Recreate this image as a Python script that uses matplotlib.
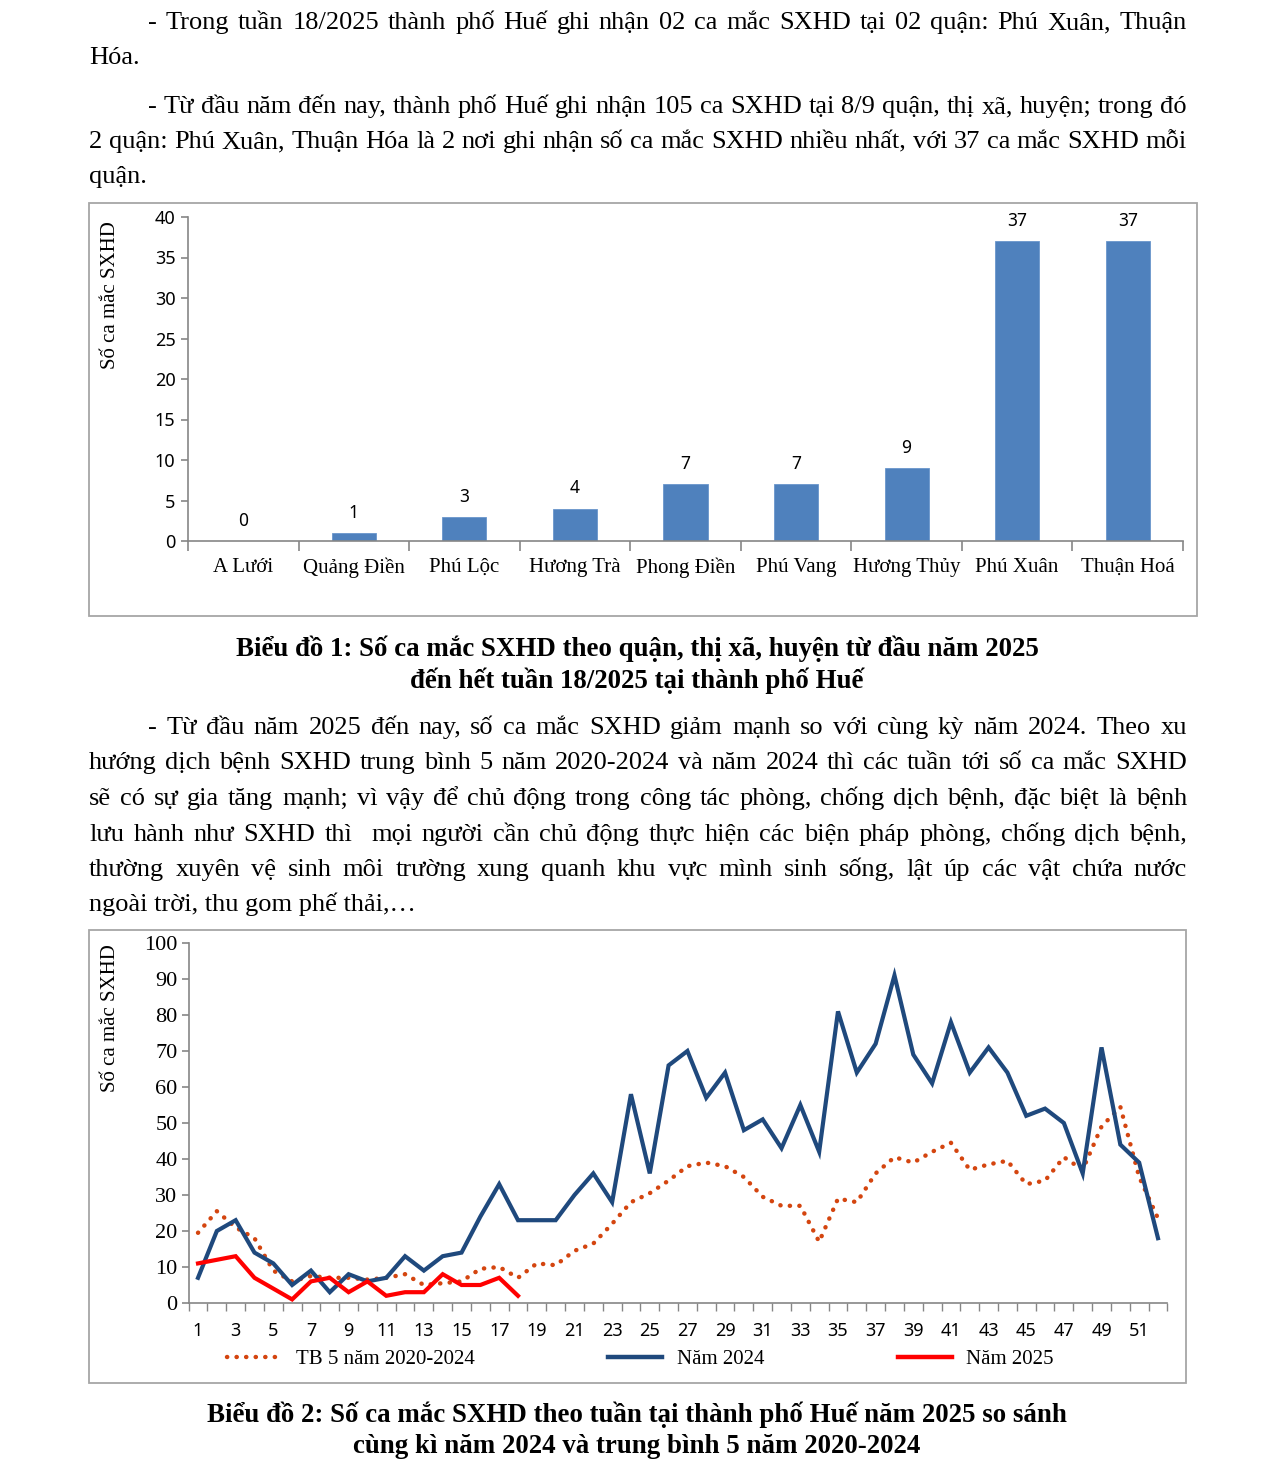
import matplotlib
matplotlib.use("Agg")
import matplotlib.pyplot as plt
from matplotlib.patches import Rectangle
from matplotlib.lines import Line2D

# ── page geometry (pixels) ───────────────────────────────────────────────────
W, H = 1275, 1463
DPI = 100
SERIF = "Liberation Serif"
SANS = "Noto Sans"

# ── data ─────────────────────────────────────────────────────────────────────
districts = ["A Lưới", "Quảng Điền", "Phú Lộc", "Hương Trà", "Phong Điền",
             "Phú Vang", "Hương Thủy", "Phú Xuân", "Thuận Hoá"]
district_cases = [0, 1, 3, 4, 7, 7, 9, 37, 37]

weeks = list(range(1, 53))
avg_5y = [19.5, 25.5, 21, 18, 9, 6, 7.5, 7, 7, 6.5,
          7, 8, 5, 5.5, 6, 9.5, 10, 7, 11, 10.5,
          14.5, 16.5, 22, 28, 30.5, 34, 38, 39, 38, 35,
          29.5, 27, 27, 17, 29, 28, 36, 40.5, 39, 42,
          44.5, 37, 38.5, 39.5, 33, 34, 40.5, 37, 49, 54.5,
          35, 23.5]
cases_2024 = [7, 20, 23, 14, 11, 5, 9, 3, 8, 6,
              7, 13, 9, 13, 14, 24, 33, 23, 23, 23,
              30, 36, 28, 58, 36, 66, 70, 57, 64, 48,
              51, 43, 55, 42, 81, 64, 72, 91, 69, 61,
              78, 64, 71, 64, 52, 54, 50, 36, 71, 44,
              39, 18]
cases_2025 = [11, 12, 13, 7, 4, 1, 6, 7, 3, 6, 2, 3, 3, 8, 5, 5, 7, 2]

series_labels = ["TB 5 năm 2020-2024", "Năm 2024", "Năm 2025"]
ylabel = "Số ca mắc SXHD"

para1 = [("- Trong tuần 18/2025 thành phố Huế ghi nhận 02 ca mắc SXHD tại 02 quận: Phú Xuân, Thuận", 20, True, True),
         ("Hóa.", 55, False, False)]
para2 = [("- Từ đầu năm đến nay, thành phố Huế ghi nhận 105 ca SXHD tại 8/9 quận, thị xã, huyện; trong đó", 104, True, True),
         ("2 quận: Phú Xuân, Thuận Hóa là 2 nơi ghi nhận số ca mắc SXHD nhiều nhất, với 37 ca mắc SXHD mỗi", 139, False, True),
         ("quận.", 174, False, False)]
para3 = [("- Từ đầu năm 2025 đến nay, số ca mắc SXHD giảm mạnh so với cùng kỳ năm 2024. Theo xu", 725, True, True),
         ("hướng dịch bệnh SXHD trung bình 5 năm 2020-2024 và năm 2024 thì các tuần tới số ca mắc SXHD", 760, False, True),
         ("sẽ có sự gia tăng mạnh; vì vậy để chủ động trong công tác phòng, chống dịch bệnh, đặc biệt là bệnh", 796, False, True),
         ("lưu hành như SXHD thì  mọi người cần chủ động thực hiện các biện pháp phòng, chống dịch bệnh,", 832, False, True),
         ("thường xuyên vệ sinh môi trường xung quanh khu vực mình sinh sống, lật úp các vật chứa nước", 867, False, True),
         ("ngoài trời, thu gom phế thải,…", 902, False, False)]
caption1 = [("Biểu đồ 1: Số ca mắc SXHD theo quận, thị xã, huyện từ đầu năm 2025", 647),
            ("đến hết tuần 18/2025 tại thành phố Huế", 679)]
caption2 = [("Biểu đồ 2: Số ca mắc SXHD theo tuần tại thành phố Huế năm 2025 so sánh", 1413),
            ("cùng kì năm 2024 và trung bình 5 năm 2020-2024", 1444)]

BAR_C = "#4F81BD"
C_2024 = "#1F497D"
C_2025 = "#FF0000"
C_AVG = "#D4450F"
AXIS_C = "#868686"
FRAME_C = "#A6A6A6"
TEXT_SIZE = 19.0


def fx(px):
    return px / W


def fy(py):
    return 1 - py / H


fig = plt.figure(figsize=(W / DPI, H / DPI), dpi=DPI)
renderer = fig.canvas.get_renderer()


def put_line(text, yc, indent, justify, x0=89, x1=1187, size=TEXT_SIZE):
    """Body text line; justified word by word like the Word page."""
    base = yc + 9
    left = x0 + (59 if indent else 0)
    if not justify:
        fig.text(fx(left), fy(base), text, fontsize=size, family=SERIF, va="baseline")
        return
    words = text.split(" ")
    objs = [fig.text(0, fy(base), w, fontsize=size, family=SERIF, va="baseline") for w in words]
    widths = [o.get_window_extent(renderer).width if w else 0 for o, w in zip(objs, words)]
    gap = (x1 - left - sum(widths)) / (len(words) - 1)
    x = left
    for o, wd in zip(objs, widths):
        o.set_x(fx(x))
        x += wd + gap


for line in para1 + para2 + para3:
    put_line(*line)

for text, yc in caption1 + caption2:
    fig.text(fx(637), fy(yc + 9), text, fontsize=19.4, family=SERIF, weight="bold",
             ha="center", va="baseline")

# ── chart frames ─────────────────────────────────────────────────────────────
for (l, t, r, b) in [(89, 203, 1197, 616), (89, 930, 1186, 1383)]:
    fig.add_artist(Rectangle((fx(l), fy(b)), fx(r - l), (b - t) / H, transform=fig.transFigure,
                             fill=False, ec=FRAME_C, lw=1.3))


def style_axes(ax):
    for side in ("top", "right"):
        ax.spines[side].set_visible(False)
    for side in ("left", "bottom"):
        ax.spines[side].set_color(AXIS_C)
        ax.spines[side].set_linewidth(1.2)
    ax.tick_params(which="both", color=AXIS_C, direction="out")


# ── chart 1: bars by district ────────────────────────────────────────────────
ax1 = fig.add_axes([fx(188), fy(541), fx(1183 - 188), (541 - 217) / H])
style_axes(ax1)
xs = range(len(districts))
ax1.bar(xs, district_cases, width=0.4, color=BAR_C, edgecolor="#6A96CC", lw=0.6)
for i, v in zip(xs, district_cases):
    ax1.annotate(str(v), (i, v), xytext=(0, 8), textcoords="offset points",
                 ha="center", va="bottom", fontsize=12.5, family=SANS)
ax1.set_xlim(-0.5, len(districts) - 0.5)
ax1.set_ylim(0, 40)
ax1.set_yticks(range(0, 41, 5))
ax1.set_xticks(list(xs))
ax1.set_xticklabels(districts, family=SERIF, fontsize=15)
ax1.set_xticks([i - 0.5 for i in range(len(districts) + 1)], minor=True)
ax1.tick_params(axis="x", which="major", length=0, pad=12)
ax1.tick_params(axis="x", which="minor", length=7, width=1.2)
ax1.tick_params(axis="y", length=5, width=1.2, labelsize=13, pad=4)
for lab in ax1.get_yticklabels():
    lab.set_family(SANS)
ax1.set_ylabel(ylabel, family=SERIF, fontsize=15)
ax1.yaxis.set_label_coords(fx(120), fy(295), transform=fig.transFigure)

# ── chart 2: weekly cases ────────────────────────────────────────────────────
ax2 = fig.add_axes([fx(188.6), fy(1303), fx(1167.4 - 188.6), 360 / H])
style_axes(ax2)
ax2.plot(weeks, avg_5y, color=C_AVG, lw=3.2, linestyle=(0, (0.05, 2.1)),
         dash_capstyle="round", solid_capstyle="round")
ax2.plot(weeks, cases_2024, color=C_2024, lw=3.0, solid_joinstyle="miter")
ax2.plot(weeks[:len(cases_2025)], cases_2025, color=C_2025, lw=3.0, solid_joinstyle="miter")
ax2.set_xlim(0.5, 52.5)
ax2.set_ylim(0, 100)
ax2.set_yticks(range(0, 101, 10))
ax2.set_yticklabels([str(v) for v in range(0, 101, 10)], family=SERIF, fontsize=16)
odd_weeks = weeks[::2]
ax2.set_xticks(odd_weeks)
ax2.set_xticklabels([str(w) for w in odd_weeks], family=SANS, fontsize=13)
ax2.set_xticks([w - 0.5 for w in weeks] + [52.5], minor=True)
ax2.tick_params(axis="x", which="major", length=0, pad=14)
ax2.tick_params(axis="x", which="minor", length=6, width=1.0)
ax2.tick_params(axis="y", length=5, width=1.2, pad=3)
ax2.set_ylabel(ylabel, family=SERIF, fontsize=15)
ax2.yaxis.set_label_coords(fx(120), fy(1018), transform=fig.transFigure)

handles = [Line2D([], [], color=C_AVG, lw=3.2, linestyle=(0, (0.05, 2.1)), dash_capstyle="round"),
           Line2D([], [], color=C_2024, lw=3.2),
           Line2D([], [], color=C_2025, lw=3.2)]
ax2.legend(handles, series_labels, ncol=3, frameon=False, loc="center left",
           bbox_to_anchor=(fx(227), fy(1359)), bbox_transform=fig.transFigure,
           borderpad=0, borderaxespad=0, handlelength=2.6, handletextpad=0.7,
           columnspacing=6.4, prop={"family": SERIF, "size": 15})

fig.savefig("out.png", dpi=DPI, facecolor="white")
